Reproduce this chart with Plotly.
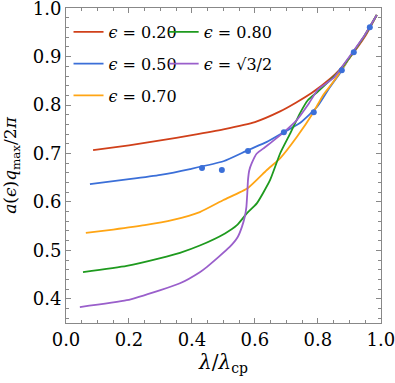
import plotly.graph_objects as go

lam_red = [0.086, 0.2, 0.3, 0.4, 0.5, 0.6, 0.68, 0.73, 0.78, 0.84, 0.87, 0.9, 0.95, 0.987]
a_red = [0.707, 0.717, 0.727, 0.738, 0.750, 0.765, 0.787, 0.805, 0.825, 0.855, 0.874, 0.897, 0.942, 0.986]

lam_blue = [0.076, 0.2, 0.3, 0.394, 0.5, 0.578, 0.638, 0.692, 0.743, 0.797, 0.838, 0.87, 0.9, 0.95, 0.987]
a_blue = [0.637, 0.647, 0.656, 0.668, 0.684, 0.707, 0.724, 0.744, 0.763, 0.796, 0.837, 0.866, 0.897, 0.945, 0.986]

lam_orange = [0.063, 0.15, 0.25, 0.34, 0.425, 0.5, 0.578, 0.638, 0.68, 0.733, 0.784, 0.816, 0.848, 0.9, 0.95, 0.987]
a_orange = [0.536, 0.543, 0.552, 0.563, 0.579, 0.604, 0.629, 0.666, 0.690, 0.734, 0.783, 0.820, 0.847, 0.897, 0.945, 0.986]

lam_green = [0.054, 0.193, 0.3, 0.362, 0.425, 0.505, 0.543, 0.575, 0.606, 0.648, 0.68, 0.711, 0.743, 0.768, 0.8, 0.838, 0.87, 0.9, 0.95, 0.987]
a_green = [0.455, 0.468, 0.484, 0.495, 0.510, 0.535, 0.552, 0.577, 0.597, 0.645, 0.700, 0.740, 0.783, 0.810, 0.828, 0.851, 0.872, 0.898, 0.945, 0.986]

lam_purple = [0.044, 0.193, 0.3, 0.362, 0.425, 0.448, 0.52, 0.545, 0.559, 0.568, 0.573, 0.576, 0.578, 0.582, 0.59, 0.606, 0.63, 0.65, 0.69, 0.733, 0.768, 0.8, 0.85, 0.9, 0.95, 0.987]
a_purple = [0.383, 0.397, 0.418, 0.432, 0.455, 0.466, 0.507, 0.527, 0.549, 0.570, 0.590, 0.620, 0.645, 0.665, 0.680, 0.700, 0.712, 0.722, 0.743, 0.769, 0.800, 0.832, 0.856, 0.900, 0.946, 0.986]

lam_pts = [0.432, 0.495, 0.578, 0.692, 0.787, 0.876, 0.914, 0.965]
a_pts = [0.670, 0.666, 0.705, 0.744, 0.785, 0.872, 0.909, 0.961]

x_ticks = [0.0, 0.2, 0.4, 0.6, 0.8, 1.0]
y_ticks = [0.4, 0.5, 0.6, 0.7, 0.8, 0.9, 1.0]

labels = ["<i>ϵ</i> = 0.20", "<i>ϵ</i> = 0.50", "<i>ϵ</i> = 0.70", "<i>ϵ</i> = 0.80", "<i>ϵ</i> = √3/2"]
colors = ["#D0401A", "#3B6FD8", "#FFA514", "#1E9A1E", "#9A5FCB"]

FONT = "DejaVu Serif"

fig = go.Figure()
series = [(lam_red, a_red), (lam_blue, a_blue), (lam_orange, a_orange), (lam_green, a_green), (lam_purple, a_purple)]
legends = ["legend", "legend", "legend", "legend2", "legend2"]
for i, ((x, y), name, c, lg) in enumerate(zip(series, labels, colors, legends)):
    fig.add_trace(go.Scatter(x=x, y=y, mode="lines", name=name, legend=lg, legendgroup=f"g{i}",
                             line=dict(color=c, width=1.8, shape="spline", smoothing=0.5)))

fig.add_trace(go.Scatter(x=lam_pts, y=a_pts, mode="markers", showlegend=False,
                         marker=dict(color=colors[1], size=6)))

axis_common = dict(showline=True, linecolor="#888888", linewidth=1, mirror="allticks",
                   ticks="inside", ticklen=5, tickcolor="#888888", showgrid=False, zeroline=False,
                   ticklabeloverflow="allow",
                   tickfont=dict(family=FONT, size=18, color="black"))

fig.update_xaxes(range=[0, 1.0005], tickvals=x_ticks, ticktext=[f"{v:.1f}" for v in x_ticks],
                 minor=dict(dtick=0.05, ticks="inside", ticklen=3, tickcolor="#888888", showgrid=False),
                 title=dict(text="<i>λ</i>/<i>λ</i><sub>cp</sub>", font=dict(family=FONT, size=20, color="black"), standoff=3),
                 **axis_common)
fig.update_yaxes(range=[0.35, 1.0005], tickvals=y_ticks, ticktext=[f"{v:.1f}" for v in y_ticks],
                 minor=dict(dtick=0.02, ticks="inside", ticklen=3, tickcolor="#888888", showgrid=False),
                 title=dict(text="<i>a</i>(<i>ϵ</i>)<i>q</i><sub>max</sub>/2<i>π</i>", font=dict(family=FONT, size=17, color="black"), standoff=12),
                 **axis_common)

leg_common = dict(bgcolor="rgba(0,0,0,0)", borderwidth=0, font=dict(family=FONT, size=16, color="black"),
                  xanchor="left", yanchor="top", tracegroupgap=8, itemwidth=30)
fig.update_layout(
    width=395, height=383,
    margin=dict(l=66, r=14, t=8, b=60, autoexpand=False),
    paper_bgcolor="white", plot_bgcolor="white",
    legend=dict(x=0.008, y=0.978, **leg_common),
    legend2=dict(x=0.31, y=0.978, **leg_common),
)

fig.write_html("out.html", config={"displayModeBar": False},
               post_script="document.body.style.margin='0';")
